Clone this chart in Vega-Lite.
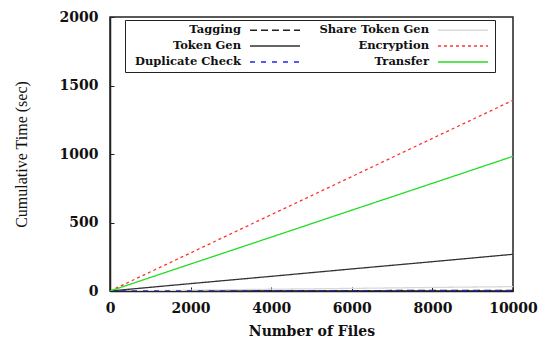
{
  "$schema": "https://vega.github.io/schema/vega-lite/v6.json",
  "width": 403,
  "height": 274,
  "autosize": "none",
  "padding": {"left": 110, "top": 17, "right": 32, "bottom": 47},
  "background": "white",
  "config": {
    "view": {"stroke": "#222", "strokeWidth": 1.5},
    "axis": {
      "grid": false,
      "domainColor": "#222",
      "domainWidth": 1.5,
      "tickColor": "#222",
      "labelFont": "DejaVu Serif",
      "labelFontWeight": "bold",
      "labelFontSize": 14,
      "labelColor": "#111",
      "titleFont": "DejaVu Serif",
      "titleFontWeight": "bold",
      "titleFontSize": 14,
      "titleColor": "#111"
    }
  },
  "data": {
    "values": [
      {"files": 0, "series": "Tagging", "time": 0},
      {"files": 2000, "series": "Tagging", "time": 1},
      {"files": 4000, "series": "Tagging", "time": 2},
      {"files": 6000, "series": "Tagging", "time": 3},
      {"files": 8000, "series": "Tagging", "time": 4},
      {"files": 10000, "series": "Tagging", "time": 5},
      {"files": 0, "series": "Share Token Gen", "time": 0},
      {"files": 2000, "series": "Share Token Gen", "time": 6},
      {"files": 4000, "series": "Share Token Gen", "time": 13},
      {"files": 6000, "series": "Share Token Gen", "time": 19},
      {"files": 8000, "series": "Share Token Gen", "time": 26},
      {"files": 10000, "series": "Share Token Gen", "time": 32},
      {"files": 0, "series": "Token Gen", "time": 0},
      {"files": 2000, "series": "Token Gen", "time": 54},
      {"files": 4000, "series": "Token Gen", "time": 107},
      {"files": 6000, "series": "Token Gen", "time": 161},
      {"files": 8000, "series": "Token Gen", "time": 214},
      {"files": 10000, "series": "Token Gen", "time": 268},
      {"files": 0, "series": "Encryption", "time": 0},
      {"files": 2000, "series": "Encryption", "time": 278},
      {"files": 4000, "series": "Encryption", "time": 557},
      {"files": 6000, "series": "Encryption", "time": 835},
      {"files": 8000, "series": "Encryption", "time": 1114},
      {"files": 10000, "series": "Encryption", "time": 1392},
      {"files": 0, "series": "Duplicate Check", "time": 0},
      {"files": 2000, "series": "Duplicate Check", "time": 0.4},
      {"files": 4000, "series": "Duplicate Check", "time": 0.8},
      {"files": 6000, "series": "Duplicate Check", "time": 1.2},
      {"files": 8000, "series": "Duplicate Check", "time": 1.6},
      {"files": 10000, "series": "Duplicate Check", "time": 2},
      {"files": 0, "series": "Transfer", "time": 0},
      {"files": 2000, "series": "Transfer", "time": 197},
      {"files": 4000, "series": "Transfer", "time": 393},
      {"files": 6000, "series": "Transfer", "time": 590},
      {"files": 8000, "series": "Transfer", "time": 786},
      {"files": 10000, "series": "Transfer", "time": 983}
    ]
  },
  "mark": {"type": "line", "strokeWidth": 1.3, "clip": true},
  "encoding": {
    "x": {
      "field": "files",
      "type": "quantitative",
      "scale": {"domain": [0, 10000], "nice": false},
      "axis": {"values": [0, 2000, 4000, 6000, 8000, 10000], "format": "d", "title": "Number of Files", "tickSize": -4, "labelPadding": 14, "titlePadding": 9, "labelFlush": false}
    },
    "y": {
      "field": "time",
      "type": "quantitative",
      "scale": {"domain": [0, 2000], "nice": false},
      "axis": {"values": [0, 500, 1000, 1500, 2000], "format": "d", "title": "Cumulative Time (sec)", "tickSize": -4, "labelPadding": 16, "titlePadding": 30, "titleFont": "Liberation Serif", "titleFontWeight": "normal", "titleFontSize": 16, "labelFlush": false}
    },
    "color": {
      "field": "series",
      "type": "nominal",
      "scale": {
        "domain": ["Tagging", "Token Gen", "Duplicate Check", "Share Token Gen", "Encryption", "Transfer"],
        "range": ["#222222", "#333333", "#2222ee", "#d8d8d8", "#ff3333", "#22dd22"]
      },
      "legend": {
        "title": null,
        "orient": "none",
        "legendX": 15,
        "legendY": 3,
        "columns": 2,
        "columnPadding": 14,
        "rowPadding": 4,
        "padding": 4,
        "strokeColor": "#222",
        "symbolType": "M23,0H33",
        "symbolSize": 100,
        "symbolStrokeWidth": 1.5,
        "labelFont": "DejaVu Serif",
        "labelFontWeight": "bold",
        "labelFontSize": 11.5,
        "labelColor": "#111",
        "labelAlign": "right",
        "labelOffset": 100,
        "labelLimit": 200
      }
    },
    "strokeDash": {
      "field": "series",
      "type": "nominal",
      "scale": {
        "domain": ["Tagging", "Token Gen", "Duplicate Check", "Share Token Gen", "Encryption", "Transfer"],
        "range": [[7, 4], [1, 0], [5, 6], [1, 0], [3, 3], [1, 0]]
      },
      "legend": null
    }
  }
}
